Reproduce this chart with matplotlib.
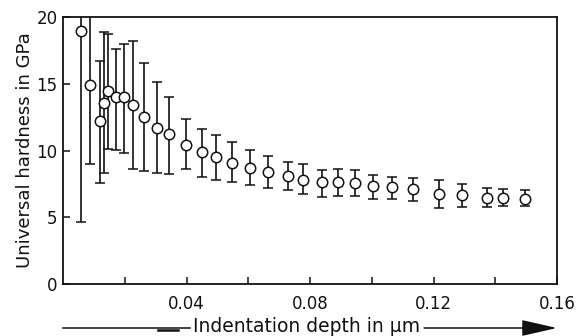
import numpy as np
import matplotlib
matplotlib.use('Agg')
import matplotlib.pyplot as plt
from matplotlib.lines import Line2D

# indentation depth (um), hardness (GPa), error bar ends
depth = [0.0058, 0.0088, 0.0121, 0.0132, 0.0147, 0.0171, 0.0199, 0.0226, 0.0263, 0.0304,
         0.0344, 0.0397, 0.0449, 0.0494, 0.0548, 0.0605, 0.0663, 0.0728, 0.0777, 0.0840,
         0.0891, 0.0945, 0.1003, 0.1065, 0.1134, 0.1219, 0.1292, 0.1372, 0.1426, 0.1495]
hardness = [18.97, 14.88, 12.19, 13.58, 14.48, 13.98, 13.98, 13.38, 12.53, 11.71,
            11.24, 10.43, 9.89, 9.54, 9.09, 8.69, 8.41, 8.09, 7.79, 7.66,
            7.66, 7.54, 7.36, 7.24, 7.09, 6.74, 6.67, 6.47, 6.47, 6.39]
err_top = [21.0, 21.0, 16.70, 18.85, 18.70, 17.63, 17.95, 18.18, 16.58, 15.13,
           14.03, 12.34, 11.63, 11.18, 10.61, 10.01, 9.59, 9.12, 8.97, 8.54,
           8.59, 8.52, 8.19, 8.04, 7.96, 7.77, 7.49, 7.21, 7.09, 7.02]
err_bot = [4.67, 8.99, 7.60, 8.29, 10.09, 10.04, 9.81, 8.59, 8.49, 8.31,
           8.26, 8.64, 7.99, 7.77, 7.62, 7.42, 7.17, 7.04, 6.77, 6.49,
           6.59, 6.59, 6.39, 6.39, 6.22, 5.72, 5.79, 5.79, 5.84, 5.82]

x_ticks = [0.02, 0.04, 0.06, 0.08, 0.10, 0.12, 0.14, 0.16]
x_labels = ['', '0.04', '', '0.08', '', '0.12', '', '0.16']
y_ticks = [0, 5, 10, 15, 20]

plt.rcParams['font.family'] = 'DejaVu Sans'
W, H = 577, 336
fig = plt.figure(figsize=(W / 100, H / 100), dpi=100)
ax = fig.add_axes([63 / W, 1 - 284 / H, (557 - 63) / W, (284 - 17) / H])

h = np.array(hardness)
yerr = [h - np.array(err_bot), np.array(err_top) - h]
ax.errorbar(depth, hardness, yerr=yerr, fmt='o', ms=7.5, mfc='white', mec='#111111',
            mew=1.1, ecolor='#111111', elinewidth=1.2, capsize=3.3, capthick=1.2,
            zorder=3)

ax.set_xlim(0, 0.16)
ax.set_ylim(0, 20)
ax.set_xticks(x_ticks)
ax.set_xticklabels(x_labels)
ax.set_yticks(y_ticks)
ax.tick_params(direction='in', length=5, width=1.1, labelsize=12, colors='#111111')
ax.tick_params(axis='x', pad=8)
ax.tick_params(axis='y', pad=4)
for sp in ax.spines.values():
    sp.set_linewidth(1.3)
    sp.set_color('#111111')

ax.set_ylabel('Universal hardness in GPa', fontsize=13, color='#111111', labelpad=2)

# x label with arrow line
txt = fig.text(193 / W, 1 - 327 / H, 'Indentation depth in \u03bcm', fontsize=13.5,
               ha='left', va='center', color='#111111')
fig.canvas.draw()
bb = txt.get_window_extent()
yl = 1 - 328 / H
fig.add_artist(Line2D([63 / W, (bb.x0 - 3) / W], [yl, yl], color='#111111', lw=1.1))
fig.add_artist(Line2D([158 / W, 178 / W], [1 - 329.5 / H] * 2, color='#111111', lw=1.8))
ax.annotate('', xy=(557 / W, yl), xycoords='figure fraction',
            xytext=((bb.x1 + 4) / W, yl), textcoords='figure fraction',
            arrowprops=dict(arrowstyle='-|>,head_length=2.2,head_width=0.5',
                            color='#111111', lw=1.1, shrinkA=0, shrinkB=0))

fig.savefig('out.png', dpi=100)
